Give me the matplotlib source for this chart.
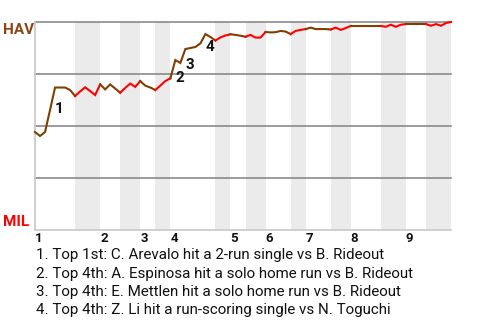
import matplotlib
matplotlib.use("Agg")
import matplotlib.pyplot as plt
from matplotlib.transforms import blended_transform_factory

plt.rcParams['font.family'] = ['Roboto', 'DejaVu Sans']

# ---- data ----
teams = ["HAV", "MIL"]
# win probability for HAV after each play (play index 0..83)
win_prob = [
    0.471, 0.452, 0.471, 0.577, 0.685, 0.685, 0.685, 0.673, 0.644,   # top 1 (0-8)
    0.666, 0.686, 0.668, 0.649, 0.700,                               # bot 1 (9-13)
    0.676, 0.700, 0.680, 0.660,                                      # top 2
    0.683, 0.704, 0.688, 0.716,                                      # bot 2
    0.694, 0.685, 0.673,                                             # top 3
    0.694, 0.716, 0.729,                                             # bot 3
    0.817, 0.803, 0.870, 0.875, 0.880, 0.897, 0.942, 0.928, 0.911,   # top 4
    0.926, 0.935, 0.941,                                             # bot 4
    0.938, 0.934, 0.929,                                             # top 5
    0.938, 0.925, 0.925, 0.952,                                      # bot 5
    0.950, 0.951, 0.957, 0.954, 0.942,                               # top 6
    0.957, 0.962, 0.966,                                             # bot 6
    0.973, 0.966, 0.966, 0.966, 0.964,                               # top 7
    0.973, 0.962, 0.971, 0.981,                                      # bot 7
    0.981, 0.981, 0.981, 0.981, 0.981, 0.981,                        # top 8
    0.977, 0.987, 0.977, 0.987, 0.990,                               # bot 8
    0.990, 0.990, 0.990, 0.990,                                      # top 9
    0.982, 0.990, 0.982, 0.995, 1.000,                               # bot 9
]
# play index where each half-inning ends (top1, bot1, top2, ...)
half_ends = [8, 13, 17, 21, 24, 27, 36, 39, 42, 46, 51, 54, 59, 63, 69, 74, 78, 83]
inning_labels = ["1", "2", "3", "4", "5", "6", "7", "8", "9"]
# key plays
key_idx = [4, 28, 30, 34]
key_marks = ["1", "2", "3", "4"]
key_text = [
    "1. Top 1st: C. Arevalo hit a 2-run single vs B. Rideout",
    "2. Top 4th: A. Espinosa hit a solo home run vs B. Rideout",
    "3. Top 4th: E. Mettlen hit a solo home run vs B. Rideout",
    "4. Top 4th: Z. Li hit a run-scoring single vs N. Toguchi",
]

BROWN = "#7f3f00"
RED = "#ff0000"
BAND = "#ebebeb"

fig = plt.figure(figsize=(4.8, 3.2), dpi=100)
ax = fig.add_axes([35/480, 1-230/320, 416/480, 208/320])

n_last = half_ends[-1]
ax.set_xlim(0, n_last)
ax.set_ylim(0, 1)

# bands for bottom halves
starts = [0] + half_ends[:-1]
for k, (s, e) in enumerate(zip(starts, half_ends)):
    if k % 2 == 1:
        ax.axvspan(s, e, color=BAND, lw=0, zorder=0)

# grid lines
for gy in [0.25, 0.5, 0.75, 1.0]:
    ax.axhline(gy, color="#808080", lw=1.1, zorder=1, clip_on=False)

# line segments per half inning
xs = list(range(len(win_prob)))
for k, (s, e) in enumerate(zip(starts, half_ends)):
    col = BROWN if k % 2 == 0 else RED
    ax.plot(xs[s:e+1], win_prob[s:e+1], color=col, lw=1.5, zorder=3,
            clip_on=False, solid_joinstyle='miter')

# key play marks
offsets = [25, 21.5, 19.5, 16.5]
for idx, mk, off in zip(key_idx, key_marks, offsets):
    ax.annotate(mk, (xs[idx], win_prob[idx]), xytext=(0, -off),
                textcoords='offset pixels', ha='left', va='baseline',
                fontsize=11, fontweight='bold', color='#111111', zorder=4)

# spines
for sp in ['top', 'right']:
    ax.spines[sp].set_visible(False)
ax.spines['left'].set_color('#c8c8c8')
ax.spines['bottom'].set_color('#c8c8c8')
ax.spines['left'].set_linewidth(1.2)
ax.spines['bottom'].set_linewidth(1.2)
ax.set_xticks([])
ax.set_yticks([])

# team labels
fig.text(3/480, 1-34/320, teams[0], color="#8B4513", fontsize=11,
         fontweight='bold', ha='left', va='baseline')
fig.text(3/480, 1-226/320, teams[1], color=RED, fontsize=11,
         fontweight='bold', ha='left', va='baseline')

# inning labels
tr = blended_transform_factory(ax.transData, fig.transFigure)
inning_starts = [0] + half_ends[1:-1:2]
for lab, s in zip(inning_labels, inning_starts):
    ax.text(s, 1-242.5/320, lab, transform=tr, ha='left', va='baseline',
            fontsize=9.5, fontweight='bold', color='#111111')

# key play descriptions
for i, t in enumerate(key_text):
    fig.text(36/480, 1-(259.5+18.1*i)/320, t, ha='left', va='baseline',
             fontsize=10.9, color='#111111')

fig.savefig("out.png", dpi=100)
